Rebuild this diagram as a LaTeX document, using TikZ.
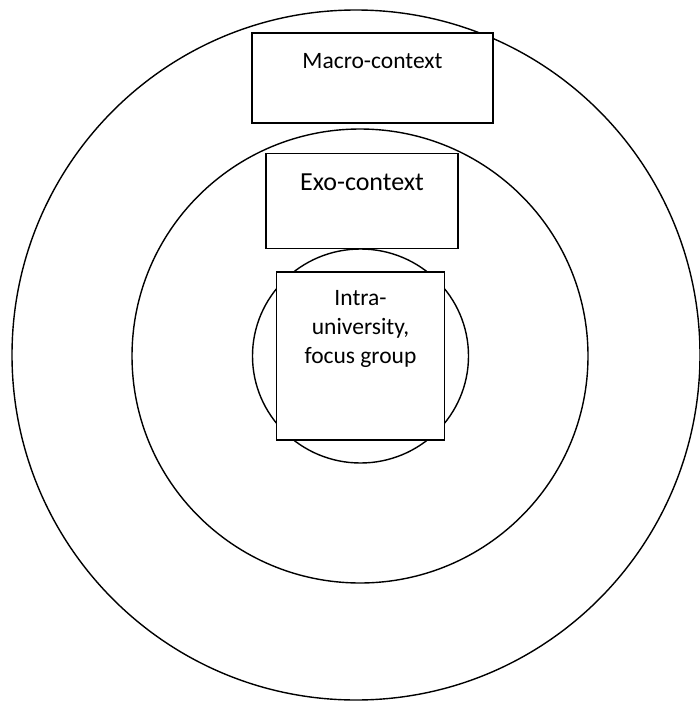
\documentclass[tikz,border=0pt]{standalone}
\usepackage{fontspec}
\setmainfont{Carlito}
\begin{document}
\begin{tikzpicture}[x=1pt,y=-1pt,
  ring/.style={draw=black,line width=1.4pt},
  boxnode/.style={draw=black,fill=white,line width=1.4pt,inner sep=0pt},
  lbl/.style={anchor=base,inner sep=0pt,font=\fontsize{23.5}{29}\selectfont,align=center}]
\useasboundingbox (0,0) rectangle (700,704);
\fill[white] (0,0) rectangle (700,704);
% rings
\draw[ring] (356,355) ellipse [x radius=344, y radius=345];
\draw[ring] (360,356) ellipse [x radius=228, y radius=227];
\draw[ring] (360.5,356) ellipse [x radius=108, y radius=107];
% boxes
\node[boxnode,minimum width=241,minimum height=90] (macro) at (372.5,78) {};
\node[boxnode,minimum width=192,minimum height=95] (exo) at (362,201) {};
\node[boxnode,minimum width=168,minimum height=168] (intra) at (360.5,356) {};
% labels
\node[lbl] (macrot) at (372.5,68) {Macro-context};
\node[lbl,font=\fontsize{26}{31}\selectfont] (exot) at (362,190) {Exo-context};
\node[lbl,anchor=north] (intrat) at (360.5,290) {Intra-\\university,\\focus group};
\end{tikzpicture}
\end{document}
